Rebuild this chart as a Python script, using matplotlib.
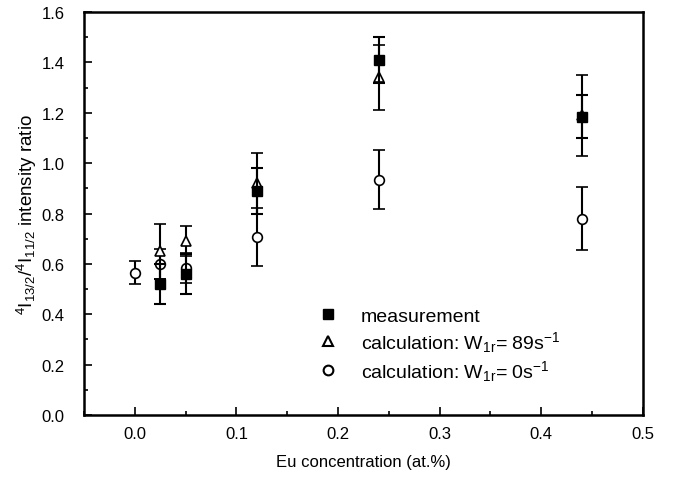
import numpy as np
import matplotlib
matplotlib.use("Agg")
import matplotlib.pyplot as plt
from matplotlib.ticker import MultipleLocator, FormatStrFormatter
from matplotlib.lines import Line2D

plt.rcParams['font.family'] = ['Liberation Sans', 'DejaVu Sans']
plt.rcParams['mathtext.fontset'] = 'custom'
plt.rcParams['mathtext.rm'] = 'Liberation Sans'
plt.rcParams['mathtext.it'] = 'Liberation Sans'

# measurement
x_meas = [0.025, 0.05, 0.12, 0.24, 0.44]
y_meas = [0.52, 0.56, 0.89, 1.41, 1.185]
e_meas = [0.08, 0.08, 0.09, 0.09, 0.085]

# calculation W1r = 89 s^-1
x_c89 = [0.025, 0.05, 0.12, 0.24, 0.44]
y_c89 = [0.65, 0.69, 0.92, 1.34, 1.19]
e_c89 = [0.11, 0.06, 0.12, 0.13, 0.16]

# calculation W1r = 0 s^-1
x_c0 = [0.0, 0.025, 0.05, 0.12, 0.24, 0.44]
y_c0 = [0.565, 0.60, 0.585, 0.705, 0.935, 0.78]
e_c0 = [0.045, 0.06, 0.06, 0.115, 0.118, 0.125]

labels = ["measurement",
          r"calculation: W$_{1r}$= 89s$^{-1}$",
          r"calculation: W$_{1r}$= 0s$^{-1}$"]

fig = plt.figure(figsize=(6.73, 4.81), dpi=100)
ax = fig.add_axes([0.125, 0.135, 0.83, 0.838])

eb = dict(color="black", ecolor="black", elinewidth=1.5, capsize=4.5, capthick=1.5, linestyle="none")
ax.errorbar(x_c0, y_c0, yerr=e_c0, marker="o", markersize=7, markerfacecolor="white",
            markeredgewidth=1.2, zorder=3, **eb)
ax.errorbar(x_c89, y_c89, yerr=e_c89, marker="^", markersize=7, markerfacecolor="white",
            markeredgewidth=1.2, zorder=4, **eb)
ax.errorbar(x_meas, y_meas, yerr=e_meas, marker="s", markersize=6.5, markerfacecolor="black",
            zorder=5, **eb)

ax.set_xlim(-0.05, 0.5)
ax.set_ylim(0.0, 1.6)
ax.xaxis.set_major_locator(MultipleLocator(0.1))
ax.xaxis.set_minor_locator(MultipleLocator(0.05))
ax.yaxis.set_major_locator(MultipleLocator(0.2))
ax.yaxis.set_minor_locator(MultipleLocator(0.1))
ax.xaxis.set_major_formatter(FormatStrFormatter("%.1f"))
ax.yaxis.set_major_formatter(FormatStrFormatter("%.1f"))
ax.tick_params(which="both", direction="in", top=False, right=False, labelsize=12, width=1.2)
ax.tick_params(which="major", length=6)
ax.tick_params(which="minor", length=3)
ax.tick_params(axis="x", which="major", pad=8)
ax.tick_params(axis="y", which="major", pad=14)
for s in ax.spines.values():
    s.set_linewidth(1.8)

ax.set_xlabel("Eu concentration (at.%)", fontsize=12, labelpad=9)
ax.set_ylabel(r"$^4$I$_{13/2}$/$^4$I$_{11/2}$ intensity ratio", fontsize=13.5, labelpad=2)

handles = [Line2D([], [], color="black", marker="s", markersize=6.5, linestyle="none"),
           Line2D([], [], color="black", marker="^", markersize=7, markerfacecolor="white",
                  markeredgewidth=1.5, linestyle="none"),
           Line2D([], [], color="black", marker="o", markersize=7, markerfacecolor="white",
                  markeredgewidth=1.5, linestyle="none")]
ax.legend(handles, labels, loc="upper left", bbox_to_anchor=(0.38, 0.31), frameon=False,
          fontsize=14, handletextpad=0.9, labelspacing=0.2, handlelength=1.5)

fig.savefig("out.png", dpi=100)
